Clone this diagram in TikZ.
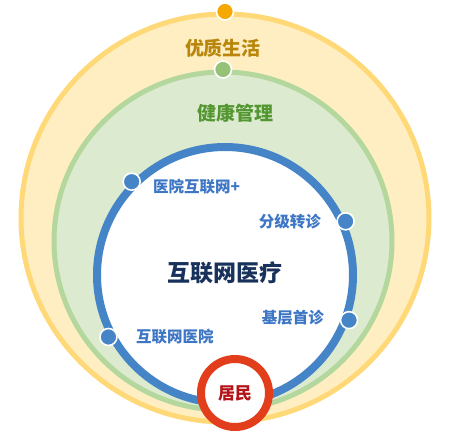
\documentclass[tikz,border=0pt]{standalone}
\usepackage{fontspec}
\newfontfamily\cjk{Noto Sans CJK SC}
\definecolor{lifeline}{RGB}{255,217,120}
\definecolor{lifefill}{RGB}{255,238,194}
\definecolor{lifedot}{RGB}{245,168,0}
\definecolor{lifetext}{RGB}{184,134,11}
\definecolor{careline}{RGB}{180,215,158}
\definecolor{carefill}{RGB}{220,235,208}
\definecolor{caredot}{RGB}{150,194,120}
\definecolor{caretext}{RGB}{84,150,50}
\definecolor{netline}{RGB}{70,132,200}
\definecolor{nettext}{RGB}{60,118,196}
\definecolor{coretext}{RGB}{24,50,92}
\definecolor{userline}{RGB}{226,62,28}
\definecolor{usertext}{RGB}{180,20,24}
\tikzset{
  ring/.style={circle, inner sep=0pt},
  dot/.style={circle, draw=white, line width=1.6pt, inner sep=0pt, minimum size=17pt},
  lbl/.style={font=\cjk\bfseries\fontsize{15.5}{16}\selectfont, text=nettext, inner sep=0pt},
}

\begin{document}
\begin{tikzpicture}[x=1pt, y=-1pt]
				\useasboundingbox (0, 0) rectangle (451, 432);
				\node[ring, draw=lifeline, fill=lifefill, line width=5pt, minimum size=408pt] (life) at (225, 218) {};
				\node[ring, draw=careline, fill=carefill, line width=5pt, minimum size=338pt] (care) at (223, 241) {};
				\node[ring, draw=netline, fill=white, line width=8pt, minimum size=256pt] (net) at (225, 275) {};
				\node[dot, fill=lifedot] (lifedot) at (life.north) {};
				\node[dot, fill=caredot] (caredot) at (care.north) {};
				\node[dot, fill=netline] (hosplus) at (net.135) {};
				\node[dot, fill=netline] (refer) at (net.24) {};
				\node[dot, fill=netline] (primary) at (net.-20) {};
				\node[dot, fill=netline] (online) at (net.208) {};
				\node[font=\cjk\bfseries\fontsize{19}{20}\selectfont, text=lifetext] (lifetxt) at (223, 48) {优质生活};
				\node[font=\cjk\bfseries\fontsize{19}{20}\selectfont, text=caretext] (caretxt) at (235, 113) {健康管理};
				\node[font=\cjk\bfseries\fontsize{23}{24}\selectfont, text=coretext] (core) at (225, 273) {互联网医疗};
				\node[lbl, anchor=west] (hosplustxt) at (153, 187) {医院互联网+};
				\node[lbl, anchor=east] (refertxt) at (321, 222) {分级转诊};
				\node[lbl, anchor=east] (primarytxt) at (324, 318) {基层首诊};
				\node[lbl, anchor=west] (onlinetxt) at (136, 337) {互联网医院};
				\node[ring, draw=userline, fill=white, line width=8pt, minimum size=68pt, font=\cjk\bfseries\fontsize{17}{18}\selectfont, text=usertext] (user) at (235, 393) {居民};
			\end{tikzpicture}
\end{document}
